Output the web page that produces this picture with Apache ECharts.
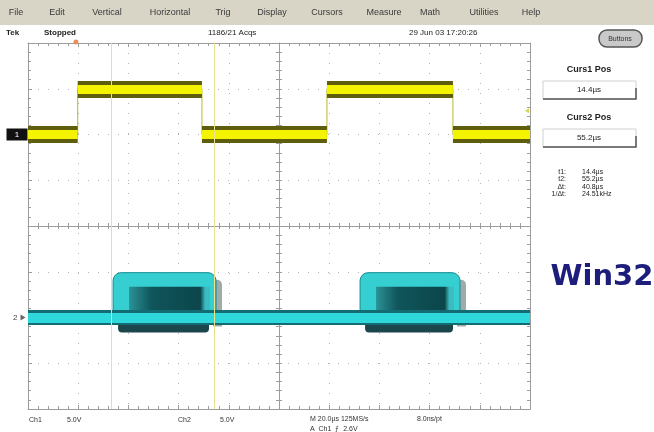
<!DOCTYPE html>
<html><head><meta charset="utf-8">
<script src="https://cdn.jsdelivr.net/npm/echarts@6/dist/echarts.min.js"></script>
<style>html,body{margin:0;padding:0;background:#fff}#c{width:654px;height:432px}</style>
</head><body><div id="c"></div>
<script>
// ---- data (time in µs across the 10-division screen, level in divisions) ----
const ch1Time = [0, 19.8, 69.3, 119.1, 169.3, 200];      // segment boundaries
const ch1Level = [2, 3, 2, 3, 2];                        // level of each segment
const ch2Base = -2;                                      // CH2 baseline level
const ch2PulseStart = [33.9, 132.3];
const ch2PulseEnd = [77.3, 174.5];
const ch2PulseTop = [-1.02, -1.02];
const cursorTimes = [33.3, 74.3];
const triggerTime = 19.1;
const triggerLevel = 2.52;
const menuItems = ['File','Edit','Vertical','Horizontal','Trig','Display','Cursors','Measure','Math','Utilities','Help'];
const readLabels = ['t1:', 't2:', 'Δt:', '1/Δt:'];
const readValues = ['14.4µs', '55.2µs', '40.8µs', '24.51kHz'];
const curs1Value = '14.4µs';
const curs2Value = '55.2µs';

// ---- build series data ----
const ch1Step = [];
const ch1Segs = [];
for (let i = 0; i < ch1Level.length; i++) {
  ch1Step.push([ch1Time[i], ch1Level[i]], [ch1Time[i+1], ch1Level[i]]);
  ch1Segs.push({coords: [[ch1Time[i], ch1Level[i]], [ch1Time[i+1], ch1Level[i]]]});
}
const ch2Pulses = ch2PulseStart.map((s, i) => [s, ch2PulseEnd[i], ch2PulseTop[i]]);
const ch2Line = [{coords: [[0, ch2Base], [200, ch2Base]]}];

const chart = echarts.init(document.getElementById('c'), null, {renderer: 'canvas'});
const F = '"Liberation Sans", Arial, sans-serif';
const gridCol = '#9c9c9c';
const dotStyle = {show: true, lineStyle: {color: '#b4b4b4', width: 1, type: [1, 9]}};

function xAx(extra) {
  return Object.assign({type: 'value', min: 0, max: 200, interval: 20, gridIndex: 0,
    axisLabel: {show: false}, splitLine: {show: false},
    axisLine: {show: true, onZero: false, lineStyle: {color: gridCol}},
    axisTick: {show: true, inside: true, length: 4, lineStyle: {color: gridCol}},
    minorTick: {show: true, splitNumber: 5, length: 3, lineStyle: {color: gridCol}}}, extra);
}
function yAx(extra) {
  return Object.assign({type: 'value', min: -4, max: 4, interval: 1, gridIndex: 0,
    axisLabel: {show: false}, splitLine: {show: false},
    axisLine: {show: true, onZero: false, lineStyle: {color: gridCol}},
    axisTick: {show: true, inside: true, length: 4, lineStyle: {color: gridCol}},
    minorTick: {show: true, splitNumber: 5, length: 3, lineStyle: {color: gridCol}}}, extra);
}

function renderPulse(params, api) {
  const s = api.value(0), e = api.value(1), top = api.value(2);
  const a = api.coord([s, top]);
  const b = api.coord([e, ch2Base]);
  const x0 = a[0], y0 = a[1], x1 = b[0], y1 = b[1];
  const w = x1 - x0, h = y1 - y0;
  return {type: 'group', children: [
    {type: 'rect', shape: {x: x0 + 5, y: y1, width: w - 18, height: 15, r: [0, 0, 4, 4]}, style: {fill: '#1b474c'}},
    {type: 'rect', shape: {x: x1 - 9, y: y0 + 7, width: 9, height: h + 2, r: [0, 5, 0, 0]}, style: {fill: '#9fabab'}},
    {type: 'rect', shape: {x: x0, y: y0, width: w - 6, height: h + 4, r: [8, 8, 2, 2]}, style: {fill: '#35cfd2', stroke: '#168c92', lineWidth: 1}},
    {type: 'rect', shape: {x: x0 + 16, y: y0 + 14, width: w - 28, height: h - 14},
      style: {fill: new echarts.graphic.LinearGradient(0, 0, 1, 0, [
        {offset: 0, color: '#2a9297'}, {offset: 0.28, color: '#0f555a'},
        {offset: 0.88, color: '#0b464b'}, {offset: 0.94, color: '#3bbcc0'}, {offset: 1, color: '#3bbcc0'}])}}
  ]};
}

const graphic = [];
// menu bar
graphic.push({type: 'rect', left: 0, top: 0, shape: {width: 654, height: 25}, style: {fill: '#d8d5c6'}, z: 0});
const menuX = [16, 57, 107, 170, 223, 272, 327, 384, 430, 484, 531];
menuItems.forEach((m, i) => graphic.push({type: 'text', x: menuX[i], y: 13,
  style: {text: m, fill: '#3a3a3a', font: '9px ' + F, textAlign: 'center', textVerticalAlign: 'middle'}}));
// status row
const status = [['Tek', 6, 'bold'], ['Stopped', 44, 'bold'], ['1186/21 Acqs', 208, 'normal'], ['29 Jun 03 17:20:26', 409, 'normal']];
status.forEach(s => graphic.push({type: 'text', x: s[1], y: 33,
  style: {text: s[0], fill: '#222', font: s[2] + ' 8px ' + F, textVerticalAlign: 'middle'}}));
// button
graphic.push({type: 'rect', shape: {x: 599, y: 30, width: 43, height: 17, r: 8}, style: {fill: '#c9c9c9', stroke: '#555', lineWidth: 1.5}});
graphic.push({type: 'text', x: 620, y: 39, style: {text: 'Buttons', fill: '#333', font: '7px ' + F, textAlign: 'center', textVerticalAlign: 'middle'}});
// cursor panel
[['Curs1 Pos', curs1Value, 70], ['Curs2 Pos', curs2Value, 118]].forEach(c => {
  const y = c[2];
  graphic.push({type: 'text', x: 589, y: y, style: {text: c[0], fill: '#222', font: 'bold 9px ' + F, textAlign: 'center', textVerticalAlign: 'middle'}});
  graphic.push({type: 'rect', shape: {x: 543, y: y + 11, width: 93, height: 18}, style: {fill: '#fff', stroke: '#d0d0d0', lineWidth: 1}});
  graphic.push({type: 'polyline', shape: {points: [[543, y + 29], [636, y + 29], [636, y + 18]]}, style: {stroke: '#555', lineWidth: 1.5, fill: null}});
  graphic.push({type: 'text', x: 589, y: y + 20, style: {text: c[1], fill: '#222', font: '8px ' + F, textAlign: 'center', textVerticalAlign: 'middle'}});
});
readLabels.forEach((l, i) => {
  graphic.push({type: 'text', x: 566, y: 172 + i * 7.3, style: {text: l, fill: '#222', font: '7px ' + F, textAlign: 'right', textVerticalAlign: 'middle'}});
  graphic.push({type: 'text', x: 582, y: 172 + i * 7.3, style: {text: readValues[i], fill: '#222', font: '7px ' + F, textVerticalAlign: 'middle'}});
});
// Win32
graphic.push({type: 'text', x: 602, y: 277, style: {text: 'Win32', fill: '#1d1d7c', font: 'bold 29px "DejaVu Sans", sans-serif', textAlign: 'center', textVerticalAlign: 'middle'}});
// bottom labels
[['Ch1', 29, 420], ['5.0V', 67, 420], ['Ch2', 178, 420], ['5.0V', 220, 420], ['M 20.0µs 125MS/s', 310, 419], ['8.0ns/pt', 417, 419], ['A  Ch1  ⨍  2.6V', 310, 429]]
  .forEach(t => graphic.push({type: 'text', x: t[1], y: t[2], style: {text: t[0], fill: '#333', font: '7px ' + F, textVerticalAlign: 'middle'}}));

const option = {
  animation: false,
  backgroundColor: '#ffffff',
  grid: {left: 28, top: 43, right: 124, bottom: 23, containLabel: false},
  xAxis: [
    xAx({position: 'bottom', splitLine: dotStyle}),
    xAx({position: 'top'}),
    xAx({position: 'bottom', axisLine: {show: true, onZero: true, onZeroAxisIndex: 0, lineStyle: {color: gridCol}}, axisTick: {show: true, inside: true, length: 3, lineStyle: {color: gridCol}}, minorTick: {show: true, splitNumber: 5, length: 3, lineStyle: {color: gridCol}}}),
    xAx({position: 'bottom', axisLine: {show: false, onZero: true, onZeroAxisIndex: 0}, axisTick: {show: true, inside: false, length: 3, lineStyle: {color: gridCol}}, minorTick: {show: true, splitNumber: 5, length: 3, lineStyle: {color: gridCol}}})
  ],
  yAxis: [
    yAx({position: 'left', splitLine: dotStyle}),
    yAx({position: 'right'}),
    yAx({position: 'left', offset: -251, axisTick: {show: true, inside: true, length: 3, lineStyle: {color: gridCol}}}),
    yAx({position: 'left', offset: -251, axisLine: {show: false, onZero: false}, axisTick: {show: true, inside: false, length: 3, lineStyle: {color: gridCol}}})
  ],
  graphic: graphic,
  series: [
    {type: 'line', data: [], z: 1, silent: true,
      markLine: {silent: true, symbol: ['none', 'none'], label: {show: false},
        lineStyle: {color: '#e4e48e', width: 1, type: 'solid'},
        data: cursorTimes.map(t => ({xAxis: t}))}},
    {type: 'custom', renderItem: renderPulse, data: ch2Pulses, z: 2, silent: true},
    {type: 'lines', coordinateSystem: 'cartesian2d', data: ch2Line, z: 3, silent: true,
      lineStyle: {color: '#136c71', width: 15, opacity: 1}},
    {type: 'lines', coordinateSystem: 'cartesian2d', data: ch2Line, z: 3, silent: true,
      lineStyle: {color: '#2ed8db', width: 10, opacity: 1},
      markPoint: {silent: true, data: [{coord: [0, ch2Base], symbol: 'triangle', symbolRotate: -90, symbolSize: [6, 5], symbolOffset: [-5, 0],
        itemStyle: {color: '#666'}, label: {show: true, formatter: '2', position: 'left', distance: 3, color: '#444', fontSize: 8, fontFamily: F}}]}},
    {type: 'line', data: ch1Step, z: 3, silent: true, symbol: 'none',
      lineStyle: {color: '#b9b92a', width: 1}},
    {type: 'lines', coordinateSystem: 'cartesian2d', data: ch1Segs, z: 4, silent: true,
      lineStyle: {color: '#5e5e0c', width: 17, opacity: 1}},
    {type: 'lines', coordinateSystem: 'cartesian2d', data: ch1Segs, z: 4, silent: true,
      lineStyle: {color: '#f4f400', width: 9, opacity: 1},
      markPoint: {silent: true, data: [
        {coord: [0, ch1Level[0]], symbol: 'rect', symbolSize: [21, 12], symbolOffset: [-11, 0], itemStyle: {color: '#111'},
          label: {show: true, formatter: '1', color: '#fff', fontSize: 8, fontFamily: F}},
        {coord: [200, triggerLevel], symbol: 'triangle', symbolRotate: 90, symbolSize: [5, 4], symbolOffset: [-3, 0], itemStyle: {color: '#d6d650'}, label: {show: false}},
        {coord: [triggerTime, 4], symbol: 'circle', symbolSize: 5, symbolOffset: [0, -1], itemStyle: {color: '#e8905a'}, label: {show: false}}
      ]}}
  ]
};
chart.setOption(option);
</script></body></html>
